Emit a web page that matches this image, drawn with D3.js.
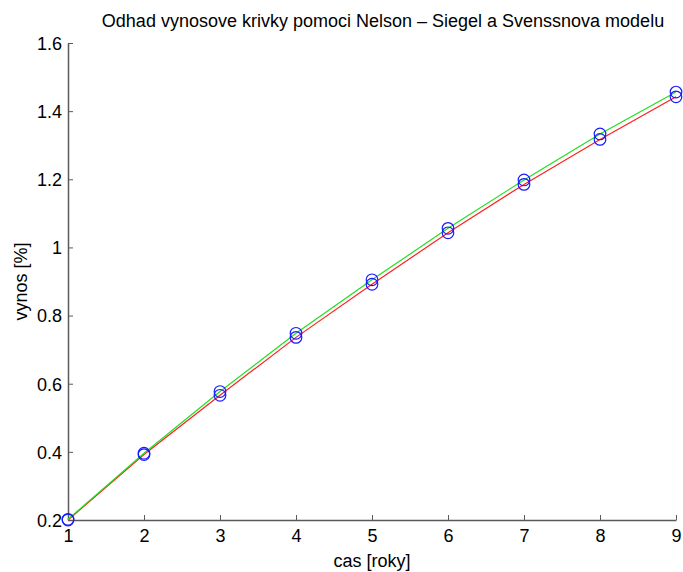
<!DOCTYPE html>
<html><head><meta charset="utf-8">
<script src="https://cdn.jsdelivr.net/npm/d3@7"></script>
<style>body{margin:0;background:#fff}svg{display:block}text{font-family:"Liberation Sans",Arial,sans-serif}</style>
</head><body><svg id="c" width="683" height="572"></svg>
<script>
const years = [1,2,3,4,5,6,7,8,9];
const nelsonSiegel = [0.200,0.392,0.566,0.736,0.892,1.043,1.185,1.317,1.442];
const svensson = [0.202,0.396,0.577,0.748,0.905,1.056,1.198,1.333,1.456];
const xTicks = [1,2,3,4,5,6,7,8,9];
const yTicks = [0.2,0.4,0.6,0.8,1,1.2,1.4,1.6];

const svg = d3.select("#c");
const L=68, R=676, T=43, B=520;
const x = d3.scaleLinear().domain([1,9]).range([L,R]);
const y = d3.scaleLinear().domain([0.2,1.6]).range([B,T]);
const ax = "#5a5a5a";
const FS = "18px";

const gx = svg.append("g").attr("transform",`translate(0,${B})`)
  .call(d3.axisBottom(x).tickValues(xTicks).tickFormat(d3.format("d")).tickSizeInner(-5).tickSizeOuter(0).tickPadding(9));
const gy = svg.append("g").attr("transform",`translate(${L},0)`)
  .call(d3.axisLeft(y).tickValues(yTicks).tickFormat(d=>String(+d.toFixed(1))).tickSizeInner(-5).tickSizeOuter(0).tickPadding(6));
[gx,gy].forEach(g=>{
  g.attr("font-size",null).attr("font-family",null);
  g.select(".domain").attr("stroke",ax).attr("stroke-width",1.5);
  g.selectAll(".tick line").attr("stroke",ax);
  g.selectAll(".tick text").attr("fill","#000").style("font-size",FS);
});
gy.selectAll(".tick text").attr("dy","0.35em");

const line = d3.line().x((d,i)=>x(years[i])).y(d=>y(d));
svg.append("path").datum(nelsonSiegel).attr("d",line).attr("fill","none").attr("stroke","#ff2020").attr("stroke-width",1.2);
svg.append("path").datum(svensson).attr("d",line).attr("fill","none").attr("stroke","#20e020").attr("stroke-width",1.2);

[nelsonSiegel, svensson].forEach(s=>{
  svg.append("g").selectAll("circle").data(s).join("circle")
    .attr("cx",(d,i)=>x(years[i])).attr("cy",d=>y(d)).attr("r",5.8)
    .attr("fill","none").attr("stroke","#1a1aff").attr("stroke-width",1.2);
});

svg.append("text").attr("x",383).attr("y",27).attr("text-anchor","middle").attr("fill","#000").style("font-size",FS)
  .text("Odhad vynosove krivky pomoci Nelson – Siegel a Svenssnova modelu");
svg.append("text").attr("x",372).attr("y",567).attr("text-anchor","middle").attr("fill","#000").style("font-size",FS).text("cas [roky]");
svg.append("text").attr("transform",`translate(27,${(T+B)/2}) rotate(-90)`).attr("text-anchor","middle").attr("fill","#000").style("font-size",FS).text("vynos [%]");
</script></body></html>
